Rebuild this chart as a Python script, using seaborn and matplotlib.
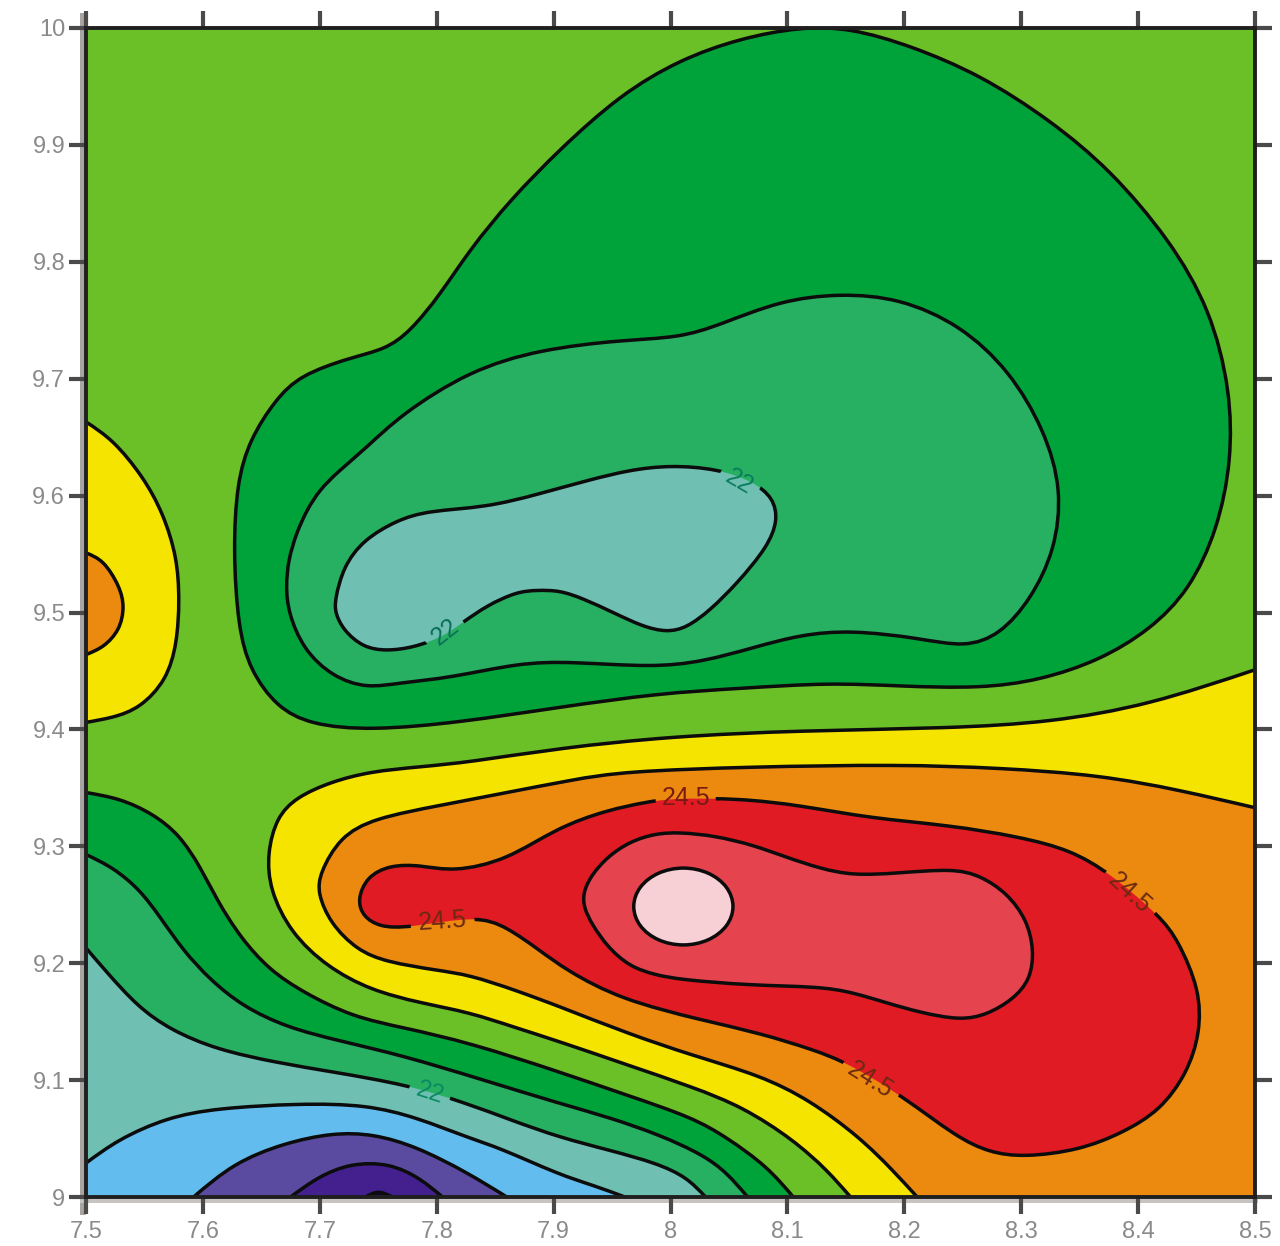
import numpy as np
import matplotlib
matplotlib.use('Agg')
import matplotlib.pyplot as plt
from matplotlib.path import Path
from matplotlib.patches import PathPatch, Rectangle
from matplotlib.transforms import IdentityTransform
import seaborn as sns

# contour outlines (longitude, latitude)
north_x = [7.626,7.629,7.640,7.662,7.683,7.726,7.756,7.777,7.803,7.828,7.863,7.905,7.957,8.008,8.059,8.111,8.154,8.205,8.265,8.325,8.376,8.427,8.462,8.479,8.480,8.468,8.444,8.410,8.367,8.316,8.265,8.196,8.136,8.059,7.991,7.905,7.820,7.743,7.692,7.663,7.640,7.630]
north_y = [9.553,9.611,9.648,9.682,9.703,9.718,9.725,9.740,9.772,9.810,9.853,9.896,9.943,9.973,9.991,10.001,10.0,9.985,9.960,9.921,9.879,9.819,9.759,9.690,9.630,9.571,9.519,9.485,9.459,9.442,9.435,9.437,9.440,9.435,9.431,9.419,9.406,9.399,9.404,9.419,9.451,9.488]

mid_x = [7.671,7.673,7.680,7.689,7.700,7.715,7.740,7.769,7.828,7.888,7.957,8.008,8.042,8.094,8.145,8.196,8.248,8.290,8.320,8.335,8.329,8.308,8.282,8.252,8.213,8.154,8.111,8.071,8.028,7.985,7.914,7.871,7.811,7.769,7.740,7.711,7.686,7.673]
mid_y = [9.522,9.545,9.568,9.588,9.605,9.620,9.641,9.669,9.707,9.725,9.733,9.735,9.746,9.767,9.773,9.769,9.746,9.707,9.656,9.605,9.553,9.511,9.481,9.470,9.478,9.485,9.481,9.470,9.458,9.453,9.458,9.457,9.444,9.440,9.435,9.445,9.468,9.500]

low_x = [7.713,7.720,7.737,7.766,7.792,7.843,7.886,7.929,7.965,8.000,8.040,8.071,8.088,8.092,8.083,8.057,8.034,8.014,7.997,7.976,7.951,7.925,7.905,7.886,7.869,7.843,7.823,7.805,7.780,7.757,7.737,7.720,7.713]
low_y = [9.511,9.539,9.562,9.579,9.587,9.590,9.601,9.613,9.622,9.626,9.623,9.612,9.598,9.579,9.556,9.525,9.502,9.487,9.483,9.488,9.500,9.512,9.519,9.519,9.518,9.506,9.492,9.479,9.470,9.467,9.470,9.485,9.500]

west_yellow_x = [7.5,7.523,7.549,7.566,7.578,7.580,7.578,7.569,7.546,7.523,7.5]
west_yellow_y = [9.663,9.648,9.616,9.585,9.547,9.511,9.474,9.442,9.418,9.410,9.406]

west_orange_x = [7.5,7.515,7.529,7.533,7.529,7.515,7.5]
west_orange_y = [9.551,9.545,9.522,9.505,9.485,9.470,9.464]

yellow_x = [8.5,8.410,8.325,8.239,8.111,8.000,7.905,7.828,7.786,7.743,7.709,7.680,7.663,7.655,7.657,7.675,7.706,7.743,7.786,7.828,7.867,7.905,7.963,8.019,8.062,8.105,8.134,8.154]
yellow_y = [9.451,9.421,9.406,9.401,9.399,9.394,9.384,9.372,9.368,9.364,9.355,9.342,9.325,9.294,9.263,9.226,9.197,9.177,9.166,9.158,9.145,9.133,9.113,9.094,9.077,9.049,9.023,9.0]

orange_x = [8.5,8.436,8.367,8.282,8.196,8.068,7.959,7.917,7.860,7.803,7.746,7.717,7.700,7.698,7.709,7.732,7.757,7.800,7.828,7.867,7.905,7.963,8.019,8.077,8.119,8.162,8.190,8.211]
orange_y = [9.333,9.348,9.361,9.367,9.370,9.368,9.364,9.357,9.346,9.335,9.324,9.308,9.277,9.260,9.234,9.211,9.201,9.194,9.190,9.177,9.163,9.140,9.121,9.104,9.083,9.051,9.023,9.0]

red_x = [7.732,7.740,7.760,7.786,7.814,7.860,7.903,7.946,7.980,8.002,8.059,8.111,8.171,8.239,8.299,8.342,8.376,8.419,8.434,8.453,8.453,8.442,8.419,8.387,8.350,8.302,8.273,8.245,8.199,8.151,8.122,8.077,8.028,7.957,7.911,7.888,7.860,7.834,7.775,7.751,7.737]
red_y = [9.254,9.274,9.284,9.284,9.278,9.288,9.316,9.331,9.338,9.341,9.341,9.335,9.324,9.318,9.308,9.297,9.277,9.240,9.220,9.177,9.140,9.106,9.074,9.055,9.040,9.034,9.038,9.051,9.086,9.115,9.126,9.140,9.151,9.169,9.194,9.211,9.231,9.241,9.230,9.231,9.240]

rose_x = [7.925,7.932,7.946,7.965,7.987,8.008,8.038,8.071,8.098,8.128,8.156,8.194,8.242,8.265,8.288,8.305,8.311,8.308,8.293,8.271,8.248,8.213,8.185,8.156,8.128,8.068,8.008,7.987,7.965,7.946,7.933,7.926]
rose_y = [9.260,9.275,9.291,9.304,9.311,9.312,9.309,9.301,9.291,9.281,9.275,9.277,9.281,9.275,9.260,9.237,9.211,9.186,9.169,9.156,9.151,9.158,9.166,9.175,9.180,9.181,9.186,9.190,9.197,9.214,9.233,9.247]

peak_x = [8.0554,8.0495,8.0332,8.0110,7.9888,7.9725,7.9666,7.9725,7.9888,8.0110,8.0332,8.0495]
peak_y = [9.2485,9.2657,9.2783,9.2829,9.2783,9.2657,9.2485,9.2313,9.2187,9.2141,9.2187,9.2313]

band1_x = [7.5,7.529,7.557,7.580,7.598,7.612,7.632,7.657,7.686,7.728,7.771,7.828,7.905,7.963,8.019,8.048,8.083,8.105]
band1_y = [9.346,9.341,9.328,9.310,9.282,9.254,9.222,9.194,9.175,9.154,9.145,9.132,9.107,9.087,9.068,9.051,9.026,9.0]

band2_x = [7.5,7.523,7.546,7.563,7.583,7.606,7.634,7.672,7.715,7.771,7.837,7.905,7.948,7.991,8.028,8.048,8.066]
band2_y = [9.293,9.282,9.263,9.240,9.211,9.186,9.163,9.145,9.134,9.121,9.101,9.080,9.068,9.053,9.036,9.021,9.0]

band3_x = [7.5,7.518,7.544,7.572,7.612,7.663,7.711,7.775,7.826,7.863,7.905,7.948,7.988,8.014,8.030]
band3_y = [9.213,9.192,9.163,9.143,9.126,9.115,9.107,9.096,9.080,9.066,9.051,9.040,9.029,9.017,9.0]

blue_x = [7.5,7.527,7.569,7.612,7.683,7.740,7.783,7.826,7.854,7.905,7.934,7.961]
blue_y = [9.029,9.049,9.068,9.076,9.080,9.079,9.068,9.051,9.042,9.019,9.010,9.0]

indigo_x = [7.592,7.626,7.669,7.711,7.746,7.783,7.826,7.860]
indigo_y = [9.0,9.029,9.046,9.055,9.054,9.043,9.021,9.0]

violet_x = [7.675,7.698,7.726,7.760,7.786,7.805]
violet_y = [9.0,9.017,9.029,9.029,9.016,9.0]

core_x = [7.739,7.750,7.762]
core_y = [9.0,9.006,9.0]

x_ticks = [7.5,7.6,7.7,7.8,7.9,8.0,8.1,8.2,8.3,8.4,8.5]
x_labels = ['7.5','7.6','7.7','7.8','7.9','8','8.1','8.2','8.3','8.4','8.5']
y_ticks = [9.0,9.1,9.2,9.3,9.4,9.5,9.6,9.7,9.8,9.9,10.0]
y_labels = ['9','9.1','9.2','9.3','9.4','9.5','9.6','9.7','9.8','9.9','10']

label_text = ['22','22','22','24.5','24.5','24.5','24.5']
label_x = [8.059,7.807,7.794,8.013,7.805,8.393,8.171]
label_y = [9.612,9.483,9.089,9.341,9.236,9.260,9.100]
label_rot = [-30,38,-18,0,4,-42,-32]
label_col = ['#0b7d5c','#0b6f58','#0b8a62','#7a1a14','#6b2a10','#6b2a10','#6b2a10']
gap_half = [(21,13),(21,13),(21,13),(30,12),(32,12),(32,12),(32,12)]

sns.set_theme(style='ticks')
plt.rcParams['font.family'] = ['Liberation Sans', 'DejaVu Sans']

colors = sns.color_palette(['#6bbf27','#00a33a','#27b062','#6fc0b3','#62bdee','#5a4ba0','#43208e','#14083a',
                            '#f4e400','#ec8a10','#e01b24','#e5444f','#f6d0d4'])
light, dark, midg, teal, sky, indigo, violet, core, yel, ora, red, rose, pale = colors


def smooth_path(xs, ys, closed=False, closing=()):
    # traced points used as b-spline control points, drawn as bezier segments
    pts = np.column_stack([xs, ys])
    if closed:
        ctrl = np.vstack([pts[-1], pts, pts[0], pts[1]])
    else:
        ctrl = np.vstack([2*pts[0] - pts[1], pts, 2*pts[-1] - pts[-2]])
    verts = [(ctrl[0] + 4*ctrl[1] + ctrl[2]) / 6]
    codes = [Path.MOVETO]
    for i in range(1, len(ctrl) - 2):
        a, b, c = ctrl[i], ctrl[i+1], ctrl[i+2]
        verts += [(2*a + b) / 3, (a + 2*b) / 3, (a + 4*b + c) / 6]
        codes += [Path.CURVE4] * 3
    if closed:
        verts.append(verts[0])
        codes.append(Path.CLOSEPOLY)
    elif closing:
        for c in closing:
            verts.append(c)
            codes.append(Path.LINETO)
        verts.append(verts[0])
        codes.append(Path.CLOSEPOLY)
    return Path(verts, codes)


fig = plt.figure(figsize=(12.8, 12.46), dpi=100)
ax = fig.add_axes([86/1280, (1246-1197)/1246, 1169/1280, 1169/1246])
ax.set_facecolor(light)
ax.set_xlim(7.5, 8.5)
ax.set_ylim(9.0, 10.0)

# grey shadow that sits behind the frame on the left and bottom
fig.add_artist(Rectangle((80/1280, (1246-1215)/1246), 6/1280, 1202/1246, transform=fig.transFigure,
                         facecolor='#a8a4a1', edgecolor='none', zorder=-5))
fig.add_artist(Rectangle((80/1280, (1246-1203)/1246), 1178/1280, 8/1246, transform=fig.transFigure,
                         facecolor='#c6c3c0', edgecolor='none', zorder=-5))

# holes in the contour lines where the labels sit
w, h = fig.canvas.get_width_height()
clip_v = [(0, 0), (w, 0), (w, h), (0, h), (0, 0)]
clip_c = [Path.MOVETO, Path.LINETO, Path.LINETO, Path.LINETO, Path.CLOSEPOLY]
for lx, ly, rot, (hw, hh) in zip(label_x, label_y, label_rot, gap_half):
    cx, cy = ax.transData.transform((lx, ly))
    t = np.deg2rad(rot)
    for sx, sy in [(-1, -1), (-1, 1), (1, 1), (1, -1), (-1, -1)]:
        dx, dy = sx * hw, sy * hh
        clip_v.append((cx + dx*np.cos(t) - dy*np.sin(t), cy + dx*np.sin(t) + dy*np.cos(t)))
    clip_c += [Path.MOVETO, Path.LINETO, Path.LINETO, Path.LINETO, Path.CLOSEPOLY]
line_clip = Path(clip_v, clip_c)

se = (8.5, 9.0)
sw = (7.5, 9.0)
layers = [
    (north_x, north_y, dark, True, ()),
    (mid_x, mid_y, midg, True, ()),
    (low_x, low_y, teal, True, ()),
    (west_yellow_x, west_yellow_y, yel, False, ()),
    (west_orange_x, west_orange_y, ora, False, ()),
    (band1_x, band1_y, dark, False, (sw,)),
    (band2_x, band2_y, midg, False, (sw,)),
    (band3_x, band3_y, teal, False, (sw,)),
    (blue_x, blue_y, sky, False, (sw,)),
    (indigo_x, indigo_y, indigo, False, ()),
    (violet_x, violet_y, violet, False, ()),
    (core_x, core_y, core, False, ()),
    (yellow_x, yellow_y, yel, False, (se,)),
    (orange_x, orange_y, ora, False, (se,)),
    (red_x, red_y, red, True, ()),
    (rose_x, rose_y, rose, True, ()),
    (peak_x, peak_y, pale, True, ()),
]

for i, (xs, ys, col, closed, closing) in enumerate(layers):
    ax.add_patch(PathPatch(smooth_path(xs, ys, closed, closing), facecolor=col, edgecolor='none', lw=0,
                           zorder=1 + i * 0.01))

for xs, ys, col, closed, closing in layers:
    line = PathPatch(smooth_path(xs, ys, closed), facecolor='none', edgecolor='#0c0c0c', lw=2.5,
                     zorder=3, capstyle='butt')
    ax.add_patch(line)
    line.set_clip_path(line_clip, IdentityTransform())

for txt, lx, ly, rot, col in zip(label_text, label_x, label_y, label_rot, label_col):
    ax.text(lx, ly, txt, rotation=rot, rotation_mode='anchor', ha='center', va='center',
            fontsize=18, color=col, zorder=4)

ax.set_xticks(x_ticks, x_labels)
ax.set_yticks(y_ticks, y_labels)
ax.tick_params(axis='both', which='major', direction='out', length=12, width=3, color='#4a4a4a',
               labelsize=17, labelcolor='#8a8a8a', top=True, right=True, labeltop=False, labelright=False)
ax.tick_params(axis='x', pad=5)
ax.tick_params(axis='y', pad=3)
for spine in ax.spines.values():
    spine.set_visible(True)
    spine.set_linewidth(2.8)
    spine.set_color('#1f1f1f')
    spine.set_zorder(6)

fig.savefig('out.png', dpi=100, facecolor='white')
